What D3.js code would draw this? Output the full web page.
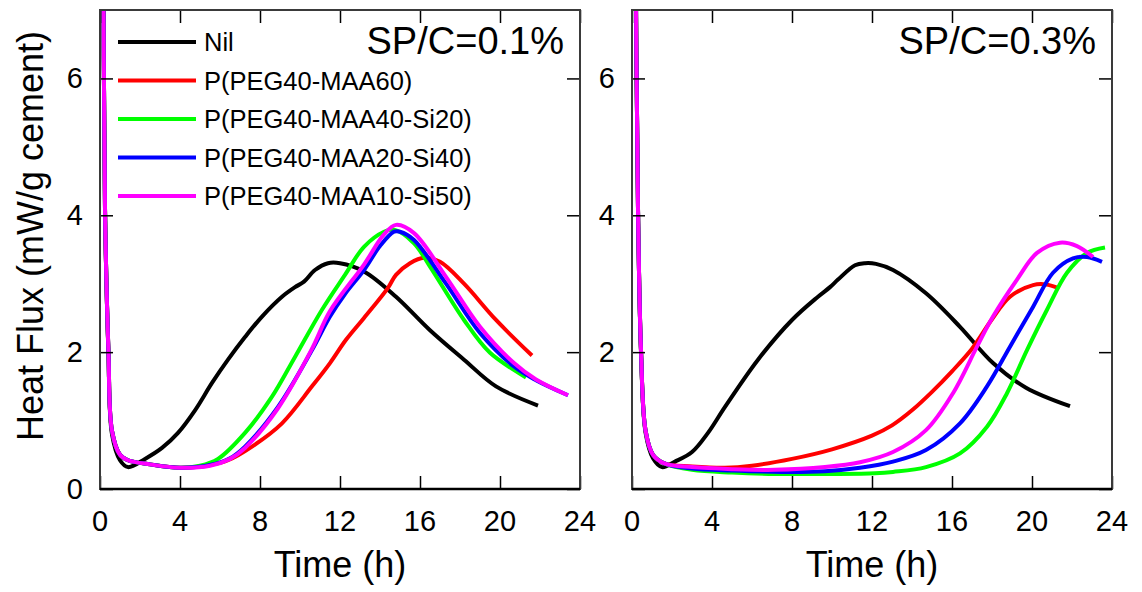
<!DOCTYPE html>
<html>
<head>
<meta charset="utf-8">
<script src="https://cdn.jsdelivr.net/npm/d3@7"></script>
<style>
  body { margin: 0; background: #fff; }
  svg { font-family: "Liberation Sans", Arial, sans-serif; }
</style>
</head>
<body>
<div id="chart"></div>
<script>
// series names / colours
var seriesNames = ["Nil", "P(PEG40-MAA60)", "P(PEG40-MAA40-Si20)", "P(PEG40-MAA20-Si40)", "P(PEG40-MAA10-Si50)"];
var seriesColors = ["#000000", "#ff0000", "#00ff00", "#0000ff", "#ff00ff"];
var panelTitles = ["SP/C=0.1%", "SP/C=0.3%"];
var xTicks = [0, 4, 8, 12, 16, 20, 24];
var yTicks = [0, 2, 4, 6];

// SP/C = 0.1 %  -- [time (h), heat flux (mW/g)]
var nil01 = [[0.15,9],[0.25,4.1],[0.42,2.0],[0.6,0.8],[1.0,0.42],[1.4,0.32],[2.25,0.44],[3.1,0.6],[3.9,0.82],[4.75,1.15],[5.6,1.55],[6.4,1.89],[7.25,2.22],[8.1,2.52],[9.1,2.81],[9.75,2.95],[10.2,3.03],[10.75,3.2],[11.4,3.3],[12.0,3.3],[13.2,3.18],[14.8,2.81],[16.5,2.32],[18.2,1.89],[19.8,1.5],[21.9,1.22]];
var maa60_01 = [[0.15,9],[0.25,4.1],[0.42,2.03],[0.6,0.85],[1.0,0.5],[1.4,0.42],[2.5,0.36],[4,0.31],[5.5,0.35],[6.4,0.42],[7.6,0.62],[9.1,0.96],[10.6,1.5],[11.5,1.84],[12.3,2.18],[13.2,2.5],[14.4,2.94],[14.8,3.13],[15.5,3.3],[16.2,3.38],[17,3.32],[18.2,3.0],[19.8,2.47],[21.6,1.95]];
var si20_01 = [[0.15,9],[0.25,4.1],[0.42,2.03],[0.6,0.85],[1.0,0.5],[1.4,0.42],[2.5,0.36],[4,0.31],[5.0,0.34],[5.9,0.44],[7.25,0.82],[8.6,1.35],[9.75,1.93],[11.1,2.62],[12.25,3.13],[13.2,3.54],[14.2,3.76],[14.7,3.79],[15.7,3.59],[16.5,3.25],[18.2,2.47],[19.5,1.99],[21.3,1.63]];
var si40_01 = [[0.15,9],[0.25,4.1],[0.42,2.03],[0.6,0.85],[1.0,0.5],[1.4,0.42],[2.5,0.36],[4,0.31],[5.5,0.35],[6.5,0.45],[7.25,0.62],[8.9,1.2],[10.6,2.03],[11.5,2.52],[12.25,2.85],[13.2,3.2],[14.0,3.55],[14.7,3.76],[15.0,3.76],[15.7,3.64],[17.3,3.0],[19,2.28],[20.7,1.79],[21.8,1.59],[23.4,1.37]];
var si50_01 = [[0.15,9],[0.25,4.1],[0.42,2.03],[0.6,0.85],[1.0,0.5],[1.4,0.42],[2.5,0.36],[4,0.31],[5.5,0.34],[6.5,0.44],[7.25,0.6],[8.9,1.18],[10.6,2.05],[11.5,2.6],[13.2,3.28],[14.2,3.72],[14.8,3.86],[15.7,3.74],[17.3,3.1],[19,2.37],[20.7,1.84],[21.8,1.6],[23.4,1.37]];

// SP/C = 0.3 %
var nil03 = [[0.15,9],[0.3,4.1],[0.45,2.0],[0.68,0.82],[1.05,0.45],[1.5,0.32],[2.15,0.4],[3.0,0.54],[3.8,0.82],[4.65,1.2],[6.3,1.89],[8.0,2.47],[9.3,2.81],[9.9,2.95],[10.3,3.06],[11.15,3.27],[11.65,3.3],[12.2,3.29],[13.05,3.2],[14.7,2.86],[16.4,2.37],[18.05,1.84],[19.7,1.48],[21.9,1.21]];
var maa60_03 = [[0.15,9],[0.3,4.1],[0.45,2.03],[0.68,0.85],[1.05,0.5],[1.65,0.37],[3,0.33],[4.65,0.31],[6,0.34],[8,0.44],[10,0.58],[12,0.78],[13,0.93],[14,1.15],[15,1.42],[16,1.72],[17,2.05],[18,2.48],[18.9,2.81],[20.05,2.98],[20.7,2.99],[21.3,2.94]];
var si20_03 = [[0.15,9],[0.3,4.1],[0.45,2.03],[0.68,0.85],[1.05,0.5],[1.65,0.37],[3,0.28],[5,0.24],[7.15,0.22],[10,0.22],[12.15,0.23],[13.05,0.25],[14.7,0.32],[16.4,0.52],[17.75,0.91],[18.75,1.4],[19.75,2.03],[20.75,2.62],[21.75,3.16],[22.75,3.45],[23.65,3.53]];
var si40_03 = [[0.15,9],[0.3,4.1],[0.45,2.03],[0.68,0.85],[1.05,0.5],[1.65,0.37],[3,0.3],[5,0.27],[7.5,0.25],[9.65,0.26],[11.4,0.31],[13.05,0.4],[14.7,0.57],[16.4,0.96],[17.75,1.5],[18.9,2.08],[20.05,2.66],[21.05,3.16],[22.05,3.37],[22.75,3.39],[23.5,3.32]];
var si50_03 = [[0.15,9],[0.3,4.1],[0.45,2.03],[0.68,0.85],[1.05,0.5],[1.65,0.37],[3,0.32],[5,0.29],[7.15,0.28],[9.65,0.32],[11.4,0.39],[13.05,0.54],[14.7,0.86],[16.05,1.4],[17.25,2.08],[18.05,2.52],[19.25,3.06],[20.25,3.45],[21.4,3.6],[22.25,3.55],[23.05,3.39]];

var panelData = [
	[nil01, maa60_01, si20_01, si40_01, si50_01],
	[nil03, maa60_03, si20_03, si40_03, si50_03]
];

var W = 1142, H = 592;
var panelLeft = [100, 632];
var pw = 480, plotTop = 10, plotBottom = 489;

var svg = d3.select("#chart").append("svg")
	.attr("width", W).attr("height", H);

var y = d3.scaleLinear().domain([0, 7]).range([plotBottom, plotTop]);

panelData.forEach(function (series, p) {
	var x = d3.scaleLinear().domain([0, 24]).range([panelLeft[p], panelLeft[p] + pw]);
	var g = svg.append("g");

	g.append("clipPath").attr("id", "clip" + p)
		.append("rect").attr("x", panelLeft[p]).attr("y", plotTop)
		.attr("width", pw).attr("height", plotBottom - plotTop);

	var line = d3.line()
		.x(function (d) { return x(d[0]); })
		.y(function (d) { return y(d[1]); })
		.curve(d3.curveCatmullRom.alpha(0.5));

	g.append("g").attr("clip-path", "url(#clip" + p + ")")
		.selectAll("path").data(series).enter()
		.append("path")
		.attr("d", line)
		.attr("fill", "none")
		.attr("stroke", function (d, i) { return seriesColors[i]; })
		.attr("stroke-width", 4)
		.attr("stroke-linejoin", "round");

	// inside ticks on all four sides
	var tl = 13;
	var noDomain = function (a) { a.select(".domain").remove(); };
	g.append("g").attr("transform", "translate(0," + plotBottom + ")")
		.call(d3.axisBottom(x).tickValues(xTicks).tickSize(-tl).tickFormat(""))
		.call(noDomain);
	g.append("g").attr("transform", "translate(0," + plotTop + ")")
		.call(d3.axisTop(x).tickValues(xTicks).tickSize(-tl).tickFormat(""))
		.call(noDomain);
	g.append("g").attr("transform", "translate(" + panelLeft[p] + ",0)")
		.call(d3.axisLeft(y).tickValues(yTicks).tickSize(-tl).tickFormat(""))
		.call(noDomain);
	g.append("g").attr("transform", "translate(" + (panelLeft[p] + pw) + ",0)")
		.call(d3.axisRight(y).tickValues(yTicks).tickSize(-tl).tickFormat(""))
		.call(noDomain);
	g.selectAll(".tick line").attr("stroke", "#000").attr("stroke-width", 1.5);

	// frame
	g.append("rect")
		.attr("x", panelLeft[p]).attr("y", plotTop)
		.attr("width", pw).attr("height", plotBottom - plotTop)
		.attr("fill", "none").attr("stroke", "#3a3a3a").attr("stroke-width", 2);
	g.append("line")
		.attr("x1", panelLeft[p]).attr("x2", panelLeft[p] + pw)
		.attr("y1", plotBottom).attr("y2", plotBottom)
		.attr("stroke", "#000").attr("stroke-width", 2.5);

	// tick labels
	g.selectAll("text.xl").data(xTicks).enter().append("text")
		.attr("x", function (d) { return x(d); })
		.attr("y", 531)
		.attr("text-anchor", "middle")
		.attr("font-size", 29)
		.text(function (d) { return d; });
	g.selectAll("text.yl").data(p == 0 ? yTicks : yTicks.slice(1)).enter().append("text")
		.attr("x", panelLeft[p] - 17)
		.attr("y", function (d) { return y(d) + 10; })
		.attr("text-anchor", "end")
		.attr("font-size", 29)
		.text(function (d) { return d; });

	g.append("text")
		.attr("x", panelLeft[p] + pw / 2)
		.attr("y", 577)
		.attr("text-anchor", "middle")
		.attr("font-size", 36)
		.text("Time (h)");

	g.append("text")
		.attr("x", panelLeft[p] + pw - 16)
		.attr("y", 54)
		.attr("text-anchor", "end")
		.attr("font-size", 38)
		.text(panelTitles[p]);
});

// y axis title
svg.append("text")
	.attr("transform", "translate(43,236) rotate(-90)")
	.attr("text-anchor", "middle")
	.attr("font-size", 36)
	.text("Heat Flux (mW/g cement)");

// legend
var legend = svg.append("g");
seriesNames.forEach(function (name, i) {
	var ly = 42 + i * 38.5;
	legend.append("line")
		.attr("x1", 118).attr("x2", 196)
		.attr("y1", ly).attr("y2", ly)
		.attr("stroke", seriesColors[i]).attr("stroke-width", 4);
	legend.append("text")
		.attr("x", 204).attr("y", ly + 9)
		.attr("font-size", 25.5)
		.text(name);
});
</script>
</body>
</html>
